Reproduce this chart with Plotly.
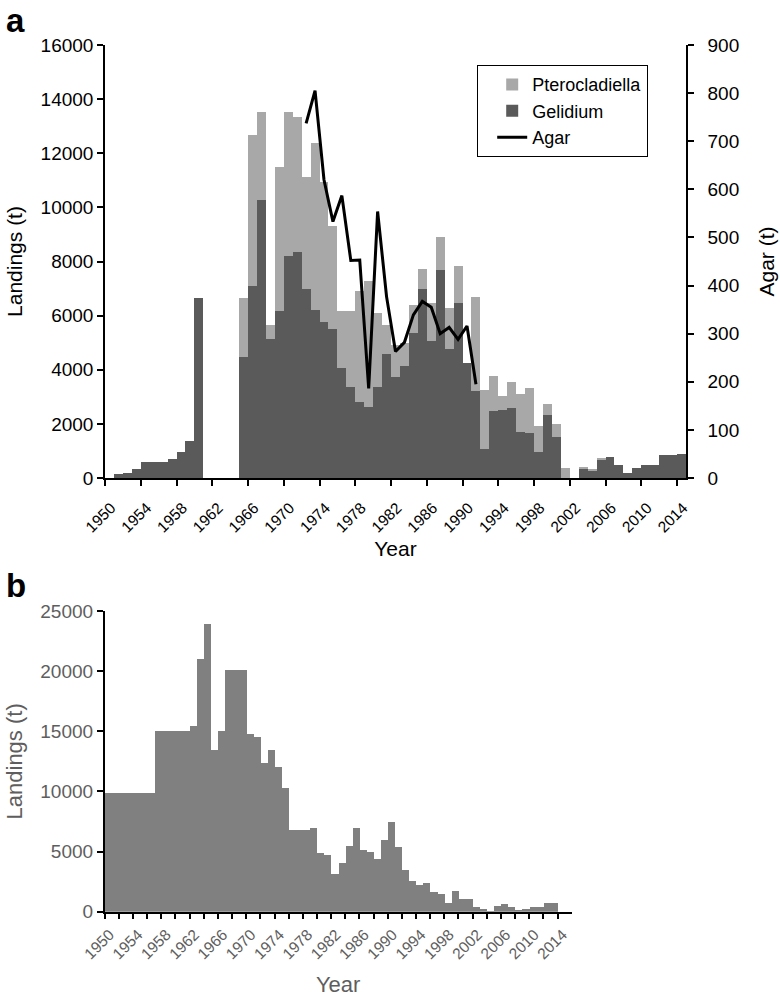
import plotly.graph_objects as go

# ---------------- data ----------------
years_a = list(range(1950, 2015))
gelidium = [0, 150, 200, 320, 580, 580, 580, 700, 950, 1350,
            6640, 0, 0, 0, 0, 4470, 7080, 10270, 5120, 6160,
            8190, 8360, 6980, 6210, 5750, 5520, 4080, 3360, 2800, 2630,
            3370, 4600, 3730, 4140, 5350, 6970, 5070, 7680, 4780, 6450,
            4260, 3200, 1060, 2470, 2530, 2570, 1710, 1650, 950, 2330,
            1520, 0, 0, 350, 260, 670, 770, 480, 190, 360,
            480, 480, 840, 840, 890]
pterocladiella = [0, 0, 0, 0, 0, 0, 0, 0, 0, 0,
                  0, 0, 0, 0, 0, 2170, 5580, 3270, 520, 5340,
                  5350, 4990, 4140, 6170, 5190, 3780, 2080, 2800, 4110, 4640,
                  2740, 1045, 1170, 860, 1040, 755, 1380, 1210, 1490, 1400,
                  0, 3480, 2210, 1310, 500, 990, 1390, 1680, 980, 405,
                  475, 360, 0, 70, 40, 45, 0, 0, 0, 0,
                  0, 0, 0, 0, 0]
agar_years = list(range(1972, 1992))
agar = [737, 805, 620, 533, 587, 452, 453, 186, 554, 377,
        263, 282, 339, 367, 355, 300, 313, 288, 316, 195]

years_b = list(range(1950, 2014))
landings_b = [9900, 9900, 9900, 9900, 9900, 9900, 9900, 15000, 15000, 15000,
              15000, 15000, 15450, 21000, 23950, 13450, 15050, 20100, 20100, 20100,
              14750, 14500, 12350, 13450, 12050, 10300, 6800, 6800, 6800, 6950,
              4850, 4750, 3100, 4050, 5450, 7000, 5100, 4950, 4400, 5950,
              7450, 5400, 3450, 2550, 2250, 2400, 1600, 1450, 750, 1750,
              1050, 1050, 350, 200, 50, 500, 650, 350, 100, 250,
              400, 400, 700, 700]

tick_years_a = list(range(1950, 2015, 4))
tick_years_b = list(range(1950, 2015, 2))

# ---------------- figure ----------------
FONT = "Liberation Sans, Arial, sans-serif"
GREY_TXT = "#5e5e5e"

fig = go.Figure()
fig.add_trace(go.Bar(x=years_a, y=gelidium, name="Gelidium", width=1,
                     marker=dict(color="#5a5a5a", line=dict(width=0)),
                     xaxis="x", yaxis="y", legendrank=2))
fig.add_trace(go.Bar(x=years_a, y=pterocladiella, name="Pterocladiella", width=1,
                     marker=dict(color="#a8a8a8", line=dict(width=0)),
                     xaxis="x", yaxis="y", legendrank=1))
fig.add_trace(go.Scatter(x=agar_years, y=agar, name="Agar", mode="lines",
                         line=dict(color="black", width=3),
                         xaxis="x", yaxis="y2", legendrank=3))
fig.add_trace(go.Bar(x=years_b, y=landings_b, name="Landings", width=1,
                     marker=dict(color="#808080", line=dict(width=0)),
                     xaxis="x2", yaxis="y3", showlegend=False))

ax_common = dict(showgrid=False, zeroline=False, showline=True, linecolor="black",
                 linewidth=1.5, tickcolor="black", tickwidth=1.5, automargin=False)
inner = dict(ticks="inside", ticklen=6, showticklabels=False, showline=False,
             showgrid=False, zeroline=False, tickcolor="black", tickwidth=1.5,
             automargin=False)

xa_range = [1949.5, 2014.5]
xa_ticks = [y - 0.5 for y in tick_years_a]
ya_dom = [1 - 478 / 998, 1 - 45 / 998]

fig.update_layout(
    width=780, height=998,
    margin=dict(l=0, r=0, t=0, b=0, autoexpand=False),
    paper_bgcolor="white", plot_bgcolor="white",
    font=dict(family=FONT, color="black", size=18),
    barmode="stack", bargap=0,
    showlegend=True,
    legend=dict(x=477 / 780, y=1 - 65 / 998, xanchor="left", yanchor="top",
                traceorder="normal", indentation=14,
                bordercolor="black", borderwidth=1.2, bgcolor="white",
                font=dict(size=18, family=FONT, color="black"),
                itemwidth=30, tracegroupgap=0),
    xaxis=dict(domain=[105 / 780, 686 / 780], anchor="y", range=xa_range,
               tickmode="array", tickvals=xa_ticks,
               ticktext=[str(y) for y in tick_years_a],
               tickangle=-45, ticks="outside", ticklen=6, ticklabelshift=6,
               ticklabelstandoff=7,
               tickfont=dict(size=15.5),
               title=dict(text="Year", font=dict(size=21), standoff=7),
               **ax_common),
    yaxis=dict(domain=ya_dom, anchor="x", range=[0, 16000], dtick=2000,
               tickformat="d", ticks="outside", ticklen=6,
               tickfont=dict(size=19),
               title=dict(text="Landings (t)", font=dict(size=21), standoff=12),
               **ax_common),
    yaxis2=dict(overlaying="y", side="right", anchor="x", range=[0, 900], dtick=100,
                tickformat="d", ticks="outside", ticklen=6, ticklabelstandoff=10,
                tickfont=dict(size=19),
                title=dict(text="Agar (t)", font=dict(size=21), standoff=21),
                **ax_common),
    # inner halves of the crossing tick marks (panel a)
    xaxis3=dict(overlaying="x", anchor="y", side="bottom", range=xa_range,
                tickmode="array", tickvals=xa_ticks, **inner),
    yaxis4=dict(overlaying="y", anchor="x", side="left", range=[0, 16000], dtick=2000,
                **inner),
    yaxis5=dict(overlaying="y", anchor="x", side="right", range=[0, 900], dtick=100,
                **inner),
    # panel b
    xaxis2=dict(domain=[104.7 / 780, 571.7 / 780], anchor="y3", range=[1949.5, 2015.5],
                tickmode="array", tickvals=[y - 0.5 for y in tick_years_b],
                ticktext=[str(y) if (y - 1950) % 4 == 0 else "" for y in tick_years_b],
                tickangle=-45, ticks="outside", ticklen=6, ticklabelshift=5,
                ticklabelstandoff=0,
                tickfont=dict(size=15.5, color=GREY_TXT),
                title=dict(text="Year", font=dict(size=22, color=GREY_TXT), standoff=15),
                **ax_common),
    yaxis3=dict(domain=[1 - 911.7 / 998, 1 - 611 / 998], anchor="x2", range=[0, 25000],
                dtick=5000, tickformat="d", ticks="outside", ticklen=6,
                tickfont=dict(size=19, color=GREY_TXT),
                title=dict(text="Landings (t)", font=dict(size=22, color=GREY_TXT), standoff=12),
                **ax_common),
    annotations=[
        dict(text="<b>a</b>", x=4 / 780, y=1 - 0 / 998, xref="paper", yref="paper",
             xanchor="left", yanchor="top", showarrow=False,
             font=dict(size=33, family=FONT, color="black")),
        dict(text="<b>b</b>", x=4 / 780, y=1 - 565 / 998, xref="paper", yref="paper",
             xanchor="left", yanchor="top", showarrow=False,
             font=dict(size=33, family=FONT, color="black")),
    ],
)

fig.write_html("out.html", config={"displayModeBar": False},
               post_script="document.body.style.margin='0';document.body.style.padding='0';")
